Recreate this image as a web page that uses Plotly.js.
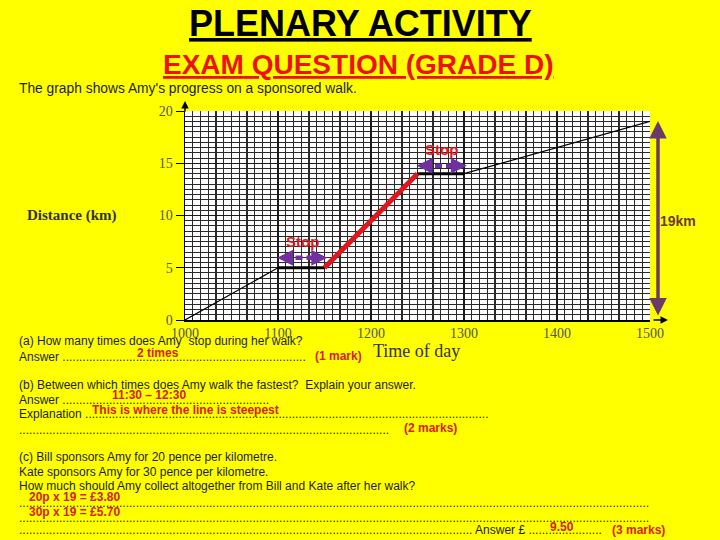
<!DOCTYPE html>
<html>
<head>
<meta charset="utf-8">
<script src="https://cdn.plot.ly/plotly-3.0.1.min.js"></script>
<style>
html,body{margin:0;padding:0;background:#ffff00;}
#chart{width:720px;height:540px;}
</style>
</head>
<body>
<div id="chart"></div>
<script>
// ---- data ----
var times = [10, 11, 11.5, 12.5, 13, 15];        // hours of day
var distance = [0, 5, 5, 14, 14, 19];            // km
var tickHours = [10, 11, 12, 13, 14, 15];
var tickLabels = ['1000', '1100', '1200', '1300', '1400', '1500'];
var distTicks = [0, 5, 10, 15, 20];
var stopStarts = [1, 3];   // indices where a stop begins
var fastStart = 2;         // index where the fastest walking begins
var totalKm = 19;

// ---- layout helpers (pixel -> paper) ----
var L = 185, R = 650, T = 111, B = 320;
function PX(p){ return (p - L) / (R - L); }
function PY(p){ return (B - p) / (B - T); }
function dots(n){ return '.'.repeat(n); }

var PURPLE = '#7030a0';
var RED = '#e0161b';
var TXT = '#1e1e1e';
var BODY = 'Liberation Sans, Arial, sans-serif';
var SERIF = 'Liberation Serif, Times New Roman, serif';

var traces = [];
// whole walk: thin black line
traces.push({x: times, y: distance, mode: 'lines', line: {color: '#000', width: 1.2}, hoverinfo: 'skip'});
// stops: thick black
stopStarts.forEach(function(i){
  traces.push({x: times.slice(i, i + 2), y: distance.slice(i, i + 2), mode: 'lines',
    line: {color: '#000', width: 3}, hoverinfo: 'skip'});
});
// fastest part: red
traces.push({x: times.slice(fastStart, fastStart + 2), y: distance.slice(fastStart, fastStart + 2), mode: 'lines',
  line: {color: RED, width: 5}, hoverinfo: 'skip'});

// dashed purple double arrows above each stop
var arrowY = [5.95, 14.75];
stopStarts.forEach(function(i, k){
  var x0 = times[i] - 0.01, x1 = times[i + 1] + 0.03;
  traces.push({x: [x0 + 0.08, x1 - 0.08], y: [arrowY[k], arrowY[k]], mode: 'lines',
    line: {color: PURPLE, width: 4.5, dash: '7px,4px'}, hoverinfo: 'skip'});
});

var ann = [];
stopStarts.forEach(function(i, k){
  var x0 = times[i] - 0.01, x1 = times[i + 1] + 0.03;
  ann.push({x: x0, y: arrowY[k], ax: x0 + 0.12, ay: arrowY[k], axref: 'x', ayref: 'y', xref: 'x', yref: 'y',
    text: '', showarrow: true, arrowhead: 2, arrowsize: 0.8, arrowwidth: 4, arrowcolor: PURPLE});
  ann.push({x: x1, y: arrowY[k], ax: x1 - 0.12, ay: arrowY[k], axref: 'x', ayref: 'y', xref: 'x', yref: 'y',
    text: '', showarrow: true, arrowhead: 2, arrowsize: 0.8, arrowwidth: 4, arrowcolor: PURPLE});
  ann.push({x: (times[i] + times[i + 1]) / 2 + 0.01, y: arrowY[k] + 1.55, xref: 'x', yref: 'y', showarrow: false,
    xanchor: 'center', yanchor: 'middle',
    text: '<b>Stop</b>', font: {family: BODY, size: 15, color: RED}});
});

// 19 km vertical arrow (outside the plot, so placed in paper units)
ann.push({x: PX(658), y: PY(121), ax: 0, ay: 196, xref: 'paper', yref: 'paper',
  text: '', showarrow: true, arrowhead: 2, arrowside: 'end+start', arrowsize: 1, arrowwidth: 3.5, arrowcolor: '#6b3a6a'});
ann.push({x: PX(678), y: PY(221), xref: 'paper', yref: 'paper', showarrow: false, xanchor: 'center', yanchor: 'middle',
  text: '<b>' + totalKm + 'km</b>', font: {family: BODY, size: 14, color: '#6b3a3a'}});

// axis arrows
ann.push({x: 0, y: PY(101), ax: 0, ay: 12, xref: 'paper', yref: 'paper', text: '', showarrow: true,
  arrowhead: 2, arrowsize: 1, arrowwidth: 1.5, arrowcolor: '#000'});
ann.push({x: PX(668), y: 0, ax: -16, ay: 0, xref: 'paper', yref: 'paper', text: '', showarrow: true,
  arrowhead: 2, arrowsize: 1, arrowwidth: 1.5, arrowcolor: '#000'});

// axis titles
ann.push({x: PX(72), y: PY(215), xref: 'paper', yref: 'paper', showarrow: false, xanchor: 'center', yanchor: 'middle',
  text: '<b>Distance (km)</b>', font: {family: SERIF, size: 15, color: '#333'}});
ann.push({x: PX(416), y: PY(351), xref: 'paper', yref: 'paper', showarrow: false, xanchor: 'center', yanchor: 'middle',
  text: 'Time of day', font: {family: SERIF, size: 18, color: '#333'}});

// slide text
function t(x, y, text, font, anchor){
  ann.push({x: PX(x), y: PY(y), xref: 'paper', yref: 'paper', showarrow: false, text: text,
    xanchor: anchor || 'left', yanchor: 'middle', font: font});
}
var fBody = {family: BODY, size: 12, color: TXT};
var fIntro = {family: BODY, size: 13.8, color: TXT};
var fRed = {family: BODY, size: 12, color: '#d8201a'};

t(360, 24, '<b><u>PLENARY ACTIVITY</u></b>', {family: BODY, size: 36, color: '#000'}, 'center');
t(358, 64, '<b><u>EXAM QUESTION (GRADE D)</u></b>', {family: BODY, size: 28, color: '#ee1111'}, 'center');
t(17, 89, 'The graph shows Amy\'s progress on a sponsored walk.', fIntro);

t(17, 341, '(a) How many times does Amy  stop during her walk?', fBody);
t(17, 357, 'Answer ' + dots(73), fBody);
t(135, 353, '<b>2 times</b>', fRed);
t(313, 356, '<b>(1 mark)</b>', fRed);

t(17, 385, '(b) Between which times does Amy walk the fastest?  Explain your answer.', fBody);
t(17, 400, 'Answer ' + dots(62), fBody);
t(110, 395, '<b>11:30 – 12:30</b>', fRed);
t(17, 414, 'Explanation ' + dots(121), fBody);
t(90, 410, '<b>This is where the line is steepest</b>', fRed);
t(17, 430, dots(111), fBody);
t(402, 428, '<b>(2 marks)</b>', fRed);

t(17, 457, '(c) Bill sponsors Amy for 20 pence per kilometre.', fBody);
t(17, 472, 'Kate sponsors Amy for 30 pence per kilometre.', fBody);
t(17, 486, 'How much should Amy collect altogether from Bill and Kate after her walk?', fBody);
t(27, 497, '<b>20p x 19 = £3.80</b>', fRed);
t(17, 503, dots(189), fBody);
t(27, 512, '<b>30p x 19 = £5.70</b>', fRed);
t(17, 518, dots(189), fBody);
t(17, 530, dots(136) + ' Answer £ ' + dots(22), fBody);
t(548, 527, '<b>9.50</b>', fRed);
t(610, 530, '<b>(3 marks)</b>', fRed);

var layout = {
  width: 720, height: 540,
  paper_bgcolor: '#ffff00', plot_bgcolor: '#ffffff',
  showlegend: false,
  margin: {l: L, r: 720 - R, t: T, b: 540 - B, pad: 0},
  xaxis: {
    range: [10, 15], tickmode: 'array', tickvals: tickHours, ticktext: tickLabels,
    showgrid: true, gridcolor: '#1a1a1a', gridwidth: 1.2,
    minor: {dtick: 1 / 12, tick0: 10, showgrid: true, gridcolor: '#2a2a2a', gridwidth: 1.1},
    showline: true, linecolor: '#000', linewidth: 1.5,
    ticks: '', ticklabelstandoff: 0,
    tickfont: {family: SERIF, size: 14, color: '#555'}, zeroline: false, fixedrange: true
  },
  yaxis: {
    range: [0, 20], tickmode: 'array', tickvals: distTicks,
    showgrid: true, gridcolor: '#1a1a1a', gridwidth: 1.2,
    minor: {dtick: 0.5, tick0: 0, showgrid: true, gridcolor: '#2a2a2a', gridwidth: 1},
    showline: true, linecolor: '#000', linewidth: 1.5,
    ticks: 'outside', ticklen: 8, tickcolor: '#000',
    tickfont: {family: SERIF, size: 14, color: '#555'}, zeroline: false, fixedrange: true
  },
  annotations: ann
};

Plotly.newPlot('chart', traces, layout, {displayModeBar: false, staticPlot: true});
</script>
</body>
</html>
